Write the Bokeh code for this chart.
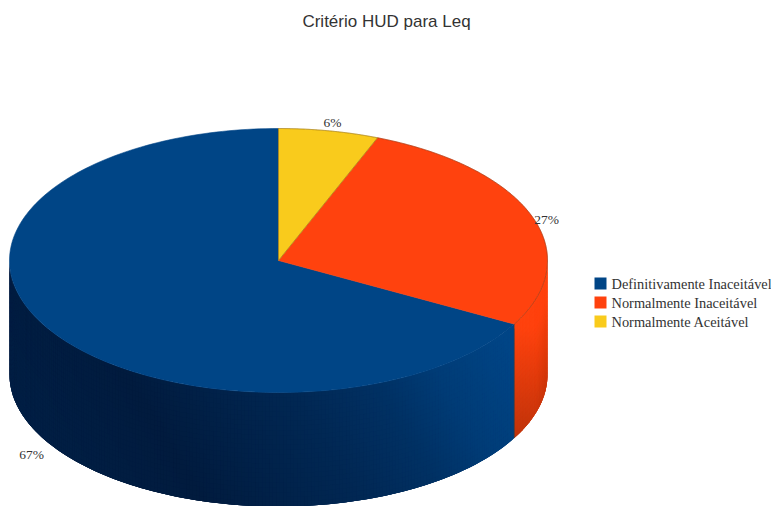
import numpy as np
from bokeh.embed import file_html
from bokeh.models import Range1d
from bokeh.plotting import figure
from bokeh.resources import INLINE
from bokeh.core.properties import value

# Chart content
title = "Critério HUD para Leq"
categories = ["Definitivamente Inaceitável", "Normalmente Inaceitável", "Normalmente Aceitável"]
percentages = [67, 27, 6]
colors = ["#004586", "#ff420e", "#f9cb1c"]

# Layout, in page pixels
W, H = 771, 506
CX, CY, RX, RY, DEPTH = 278, 260, 269, 132, 114
LABEL_POS = [(31, 454), (546, 219), (332, 122)]
LEGEND_X, LEGEND_Y, LEGEND_STEP, SWATCH = 594, 283, 19, 12

p = figure(width=W, height=H, x_range=Range1d(0, W), y_range=Range1d(H, 0),
           output_backend="svg", toolbar_location=None, min_border=0,
           outline_line_color=None, background_fill_color="white",
           border_fill_color="white")
p.axis.visible = False
p.grid.visible = False


def ex(theta):
    return CX + RX * np.sin(np.radians(theta))


def ey(theta):
    return CY - RY * np.cos(np.radians(theta))


# Slices run clockwise from 12 o'clock: yellow, then orange, then blue.
order = [2, 1, 0]
starts, a = {}, 0.0
for i in order:
    starts[i] = (a, a + percentages[i] * 3.6)
    a += percentages[i] * 3.6


def mix(c0, c1, t):
    t = np.clip(t, 0, 1)
    return "#%02x%02x%02x" % tuple(int(round(u + (v - u) * t)) for u, v in zip(c0, c1))


def side_color(i, x, y):
    if i == 0:
        t = x - 130 - (y - 380) * 0.6
        s = np.interp(t, [-150, 0, 70, 160, 245, 310, 400], [0.1, 0, 0.14, 0.3, 0.52, 0.78, 1])
        return mix((1, 27, 62), (0, 69, 134), s)
    s = 1 - ((y - 325) / 115) * 0.85 - max(x - 535, 0) / 12 * 0.25
    return mix((176, 48, 10), (255, 66, 14), s)


# Cylinder wall, shaded cell by cell across the visible lower half. Each cell
# reaches over its right and lower neighbours, which then paint over the overlap,
# so no pale seams show between cells.
xs, ys, cs = [], [], []
rows = np.linspace(0, DEPTH, 25)
for i in [1, 0]:
    t0, t1 = starts[i]
    t0, t1 = max(t0, 90), min(t1, 270)
    n = max(int((t1 - t0) / 0.75), 4)
    th = np.linspace(t0, t1, n + 1)
    for ja in range(n):
        a0, a1 = th[ja], th[min(ja + 2, n)]
        mid = th[ja + 1]
        for jd in range(len(rows) - 1):
            d0, d1 = rows[jd], rows[min(jd + 2, len(rows) - 1)]
            cell_x = [ex(a0), ex(a1), ex(a1), ex(a0)]
            cell_y = [ey(a0) + d0, ey(a1) + d0, ey(a1) + d1, ey(a0) + d1]
            xs.append(cell_x)
            ys.append(cell_y)
            cs.append(side_color(i, float(ex(mid)), float(ey(mid) + rows[jd])))
p.patches(xs, ys, fill_color=cs, line_color=None)

# Top face of each slice
for i in [0, 1, 2]:
    t0, t1 = starts[i]
    th = np.linspace(t0, t1, 181)
    p.patch(np.r_[CX, ex(th)], np.r_[CY, ey(th)], fill_color=colors[i],
            line_color=colors[i], line_width=0.6)

# Thin dark seams between slices and along the far rim
for i in [1, 2]:
    t0, t1 = starts[i]
    th = np.linspace(t0, t1, 181)
    p.line(np.r_[CX, ex(th)], np.r_[CY, ey(th)], line_color="#5a3a20", line_alpha=0.55, line_width=0.7)
wall_t = starts[0][0]
p.line([ex(wall_t), ex(wall_t)], [ey(wall_t), ey(wall_t) + DEPTH], line_color="#5a3a20",
       line_alpha=0.6, line_width=0.8)

# Title
p.text([386], [21], text=[title], text_font=value("Liberation Sans"), text_font_size="17px",
       text_color="#333333", text_align="center", text_baseline="middle")

# Percentage labels
p.text([q[0] for q in LABEL_POS], [q[1] for q in LABEL_POS],
       text=[f"{v}%" for v in percentages], text_font=value("Liberation Serif"),
       text_font_size="13.5px", text_color="#333333", text_align="center", text_baseline="middle")

# Legend
for k, (name, col) in enumerate(zip(categories, colors)):
    y = LEGEND_Y + k * LEGEND_STEP
    p.rect([LEGEND_X + SWATCH / 2], [y], width=SWATCH, height=SWATCH, fill_color=col, line_color=None)
    p.text([LEGEND_X + SWATCH + 5], [y], text=[name], text_font=value("Liberation Serif"),
           text_font_size="14.4px", text_color="#333333", text_align="left", text_baseline="middle")

open("out.html", "w").write(file_html(p, INLINE))
